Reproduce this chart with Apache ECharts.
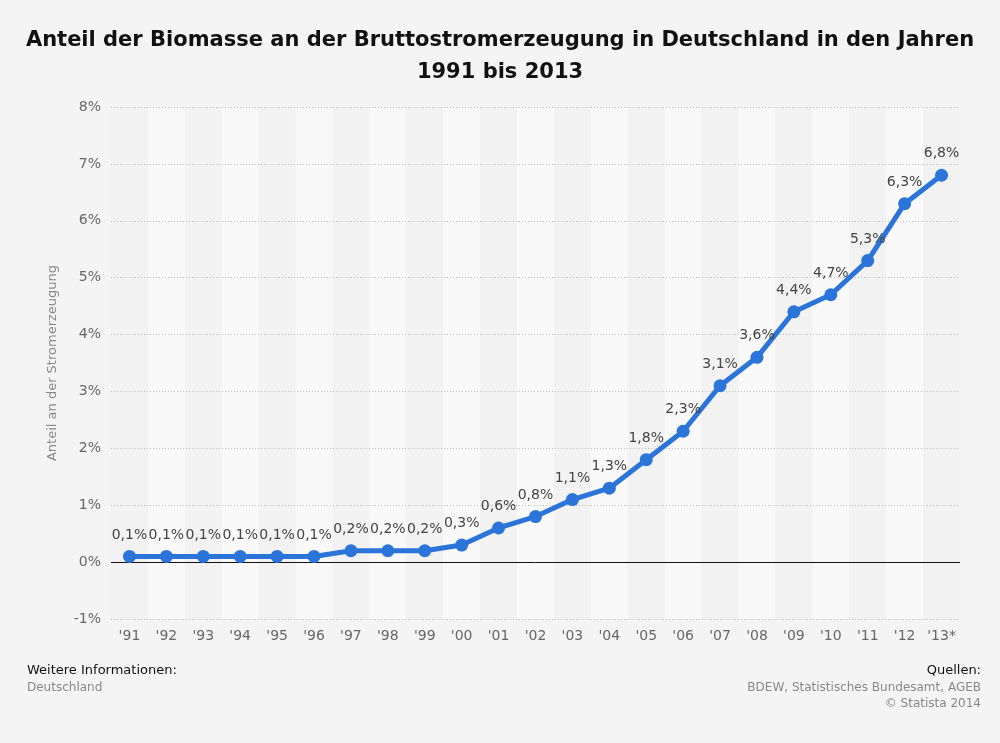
<!DOCTYPE html>
<html>
<head>
<meta charset="utf-8">
<script src="https://cdn.jsdelivr.net/npm/echarts@6/dist/echarts.min.js"></script>
<style>
  html, body { margin: 0; padding: 0; background: #f4f4f4; }
  #chart { width: 1000px; height: 743px; }
</style>
</head>
<body>
<div id="chart"></div>
<script>
// Jahre (x-Achse)
const years = ["'91", "'92", "'93", "'94", "'95", "'96", "'97", "'98", "'99", "'00", "'01", "'02",
  "'03", "'04", "'05", "'06", "'07", "'08", "'09", "'10", "'11", "'12", "'13*"]
// Anteil Biomasse in %
const shares = [0.1, 0.1, 0.1, 0.1, 0.1, 0.1, 0.2, 0.2, 0.2, 0.3, 0.6, 0.8,
  1.1, 1.3, 1.8, 2.3, 3.1, 3.6, 4.4, 4.7, 5.3, 6.3, 6.8]
// y-Achse
const yMin = -1
const yMax = 8
const yStep = 1

const font = 'DejaVu Sans'
const fmt = v => String(v).replace('.', ',') + '%'

var myChart = echarts.init(document.querySelector('#chart'))
option = {
  backgroundColor: '#f4f4f4',
  textStyle: { fontFamily: font },
  title: {
    text: 'Anteil der Biomasse an der Bruttostromerzeugung in Deutschland in den Jahren\n1991 bis 2013',
    left: 'center',
    top: 20,
    textStyle: { fontFamily: font, fontSize: 21, fontWeight: 'bold', color: '#111', lineHeight: 32 }
  },
  grid: { left: 111, right: 40, top: 107, bottom: 124 },
  xAxis: {
    type: 'category',
    data: years,
    boundaryGap: true,
    z: 0,
    axisLine: { show: false },
    axisTick: { show: false, interval: 0 },
    axisLabel: { color: '#666', fontSize: 14, margin: 10, fontFamily: font, interval: 0 },
    splitArea: { show: true, interval: 0, areaStyle: { color: ['#f2f2f2', '#f9f9f9'] } }
  },
  yAxis: {
    type: 'value',
    min: yMin,
    max: yMax,
    interval: yStep,
    z: 2,
    name: 'Anteil an der Stromerzeugung',
    nameLocation: 'middle',
    nameGap: 52,
    nameTextStyle: { color: '#888', fontSize: 13, fontFamily: font },
    axisLine: { show: false },
    axisTick: { show: false },
    axisLabel: { color: '#666', fontSize: 14, margin: 10, formatter: v => v + '%', fontFamily: font },
    splitLine: { lineStyle: { color: '#bcbcbc', type: [1, 2] } }
  },
  series: [
    {
      type: 'line',
      data: shares,
      symbol: 'circle',
      symbolSize: 13,
      itemStyle: { color: '#2b74d9' },
      lineStyle: { color: '#2b74d9', width: 5 },
      label: {
        show: true,
        position: 'top',
        distance: 8,
        color: '#444',
        fontSize: 14,
        fontFamily: font,
        formatter: p => fmt(p.value)
      },
      markLine: {
        silent: true,
        symbol: 'none',
        label: { show: false },
        lineStyle: { color: '#111', width: 1, type: 'solid' },
        data: [{ yAxis: 0 }]
      },
      z: 5
    }
  ],
  graphic: [
    { type: 'text', left: 27, top: 664, style: { text: 'Weitere Informationen:', fill: '#111', font: '13px "DejaVu Sans"' } },
    { type: 'text', left: 27, top: 682, style: { text: 'Deutschland', fill: '#888', font: '12px "DejaVu Sans"' } },
    { type: 'text', right: 19, top: 664, style: { text: 'Quellen:', fill: '#111', font: '13px "DejaVu Sans"', align: 'right' } },
    { type: 'text', right: 19, top: 682, style: { text: 'BDEW, Statistisches Bundesamt, AGEB', fill: '#888', font: '12px "DejaVu Sans"', align: 'right' } },
    { type: 'text', right: 19, top: 698, style: { text: '© Statista 2014', fill: '#888', font: '12px "DejaVu Sans"', align: 'right' } }
  ]
}
myChart.setOption(option)
</script>
</body>
</html>
